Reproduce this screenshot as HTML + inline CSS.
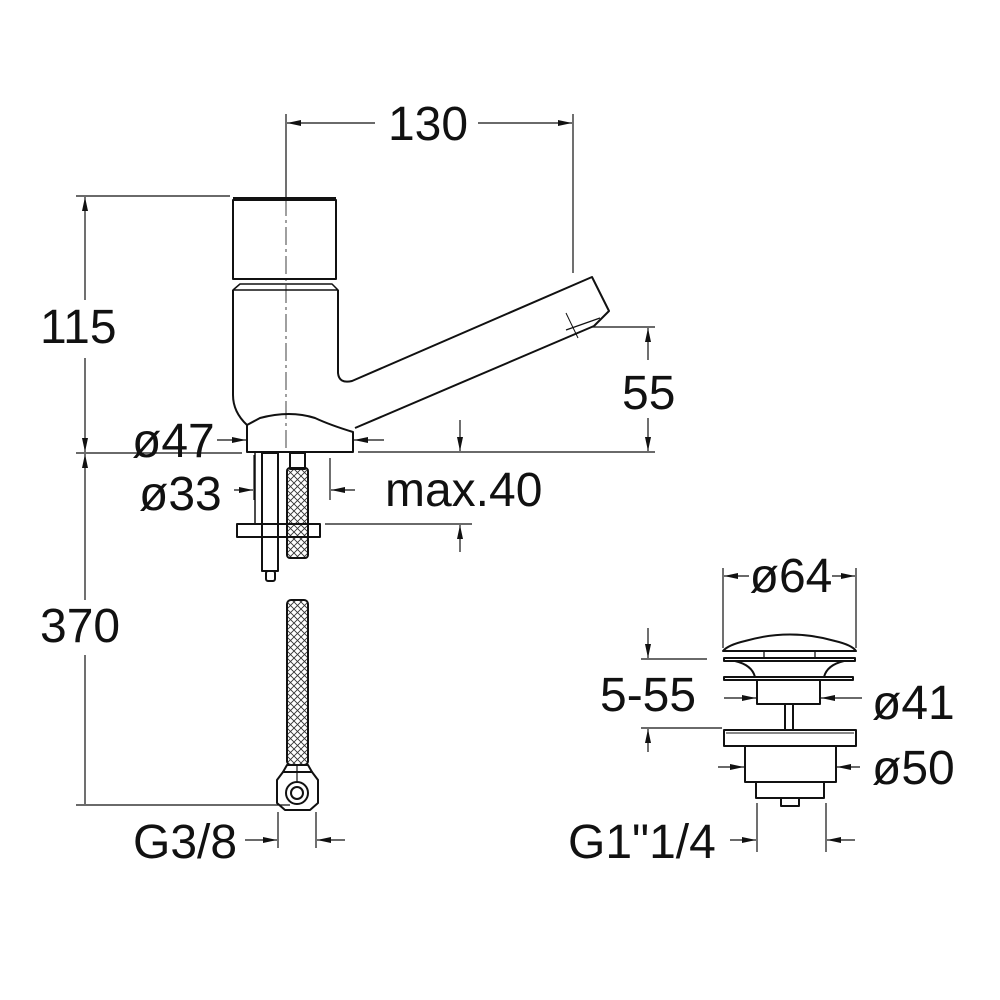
<!DOCTYPE html>
<html><head><meta charset="utf-8"><style>
html,body{margin:0;padding:0;background:#fff;}
svg{display:block;}
text{font-family:"Liberation Sans",sans-serif;font-size:48px;fill:#111;}
</style></head><body>
<svg width="1000" height="1000" viewBox="0 0 1000 1000" xmlns="http://www.w3.org/2000/svg">
<defs>
<marker id="a" viewBox="0 0 14 6" refX="14" refY="3" markerWidth="14" markerHeight="6" markerUnits="userSpaceOnUse" orient="auto"><path d="M0,0 L14,3 L0,6 Z" fill="#111"/></marker>
<pattern id="h" width="7" height="7" patternUnits="userSpaceOnUse"><path d="M0,0 L7,7 M7,0 L0,7" stroke="#333" stroke-width="0.9"/></pattern>
</defs>
<g stroke="#111" stroke-width="1.2" fill="none">
<line x1="286" y1="114" x2="286" y2="198"/>
<line x1="573" y1="114" x2="573" y2="273"/>
<line x1="375" y1="123" x2="287" y2="123" marker-end="url(#a)"/>
<line x1="478" y1="123" x2="572" y2="123" marker-end="url(#a)"/>
<line x1="76" y1="196" x2="230" y2="196"/>
<line x1="76" y1="453" x2="242" y2="453"/>
<line x1="76" y1="805" x2="290" y2="805"/>
<line x1="85" y1="230" x2="85" y2="197" marker-end="url(#a)"/>
<line x1="85" y1="230" x2="85" y2="300"/>
<line x1="85" y1="358" x2="85" y2="420"/>
<line x1="85" y1="420" x2="85" y2="452" marker-end="url(#a)"/>
<line x1="85" y1="485" x2="85" y2="454" marker-end="url(#a)"/>
<line x1="85" y1="485" x2="85" y2="600"/>
<line x1="85" y1="655" x2="85" y2="804"/>
<line x1="286" y1="198" x2="286" y2="452" stroke-dasharray="18,4,3,4" stroke-width="0.8"/>
<line x1="592" y1="327" x2="655" y2="327"/>
<line x1="358" y1="452" x2="655" y2="452"/>
<line x1="648" y1="360" x2="648" y2="328" marker-end="url(#a)"/>
<line x1="648" y1="418" x2="648" y2="451" marker-end="url(#a)"/>
<line x1="217" y1="440" x2="246" y2="440" marker-end="url(#a)"/>
<line x1="384" y1="440" x2="354" y2="440" marker-end="url(#a)"/>
<line x1="254" y1="455" x2="254" y2="500"/>
<line x1="234" y1="490" x2="253" y2="490" marker-end="url(#a)"/>
<line x1="330" y1="458" x2="330" y2="500"/>
<line x1="355" y1="490" x2="331" y2="490" marker-end="url(#a)"/>
<line x1="325" y1="524" x2="472" y2="524"/>
<line x1="460" y1="420" x2="460" y2="451" marker-end="url(#a)"/>
<line x1="460" y1="552" x2="460" y2="525" marker-end="url(#a)"/>
</g>
<g stroke="#111" stroke-width="2" fill="none" stroke-linejoin="round">
<path d="M233,200 L336,200 L336,279 L233,279 Z"/>
<line x1="233" y1="198" x2="336" y2="198"/>
<path d="M240,284 L332,284 L338,290 L233,290 Z" stroke-width="1.5"/>
<path d="M233,290 L233,395 Q233,412 247,425"/>
<path d="M338,290 L338,373 Q339,384 352,381 L592,277 L609,311 L594,326"/>
<path d="M594,326 L355,428"/>
<path d="M247,425 L247,452 L353,452 L353,432 Q330,425 315,418 Q290,410 260,418 L247,425"/>
<line x1="566" y1="313" x2="578" y2="338" stroke-width="1"/>
<line x1="566" y1="330" x2="600" y2="318" stroke-width="1.2"/>
<rect x="262" y="453" width="16" height="118"/>
<line x1="255" y1="453" x2="255" y2="524" stroke-width="1.5"/>
<rect x="266" y="571" width="9" height="10" rx="2"/>
<rect x="287" y="468" width="21" height="90" rx="3" fill="url(#h)"/>
<rect x="290" y="453" width="15" height="16"/>
<rect x="237" y="524" width="83" height="13"/>
<rect x="287" y="600" width="21" height="165" rx="4" fill="url(#h)"/>
<path d="M287,765 L308,765 L312,772 L283,772 Z"/>
<path d="M283,772 L312,772 L318,780 L318,803 L310,810 L285,810 L277,803 L277,780 Z"/>
<circle cx="297" cy="793" r="11"/>
<circle cx="297" cy="793" r="6"/>
<line x1="297" y1="765" x2="297" y2="782" stroke-width="1.2"/>
</g>
<g stroke="#111" stroke-width="1.2" fill="none">
<line x1="278" y1="812" x2="278" y2="848"/>
<line x1="316" y1="812" x2="316" y2="848"/>
<line x1="245" y1="840" x2="277" y2="840" marker-end="url(#a)"/>
<line x1="345" y1="840" x2="317" y2="840" marker-end="url(#a)"/>
<line x1="723" y1="568" x2="723" y2="648"/>
<line x1="856" y1="568" x2="856" y2="648"/>
<line x1="749" y1="576" x2="724" y2="576" marker-end="url(#a)"/>
<line x1="832" y1="576" x2="855" y2="576" marker-end="url(#a)"/>
<line x1="641" y1="659" x2="707" y2="659"/>
<line x1="641" y1="728" x2="722" y2="728"/>
<line x1="648" y1="628" x2="648" y2="658" marker-end="url(#a)"/>
<line x1="648" y1="752" x2="648" y2="729" marker-end="url(#a)"/>
<line x1="724" y1="698" x2="756" y2="698" marker-end="url(#a)"/>
<line x1="862" y1="698" x2="821" y2="698" marker-end="url(#a)"/>
<line x1="718" y1="767" x2="744" y2="767" marker-end="url(#a)"/>
<line x1="860" y1="767" x2="837" y2="767" marker-end="url(#a)"/>
<line x1="757" y1="803" x2="757" y2="852"/>
<line x1="826" y1="803" x2="826" y2="852"/>
<line x1="730" y1="840" x2="756" y2="840" marker-end="url(#a)"/>
<line x1="855" y1="840" x2="827" y2="840" marker-end="url(#a)"/>
</g>
<g stroke="#111" stroke-width="2" fill="none" stroke-linejoin="round">
<path d="M723,651 Q728,645 745,641 Q790,628 835,641 Q852,645 856,651 Z"/>
<line x1="764" y1="651" x2="764" y2="658" stroke-width="1.3"/>
<line x1="815" y1="651" x2="815" y2="658" stroke-width="1.3"/>
<rect x="724" y="658" width="131" height="3"/>
<path d="M735,661 Q752,665 755,677 M844,661 Q827,665 824,677"/>
<rect x="724" y="677" width="129" height="3"/>
<path d="M757,680 L757,704 L820,704 L820,680"/>
<rect x="785" y="704" width="8" height="26"/>
<rect x="724" y="730" width="132" height="16"/>
<line x1="726" y1="733" x2="854" y2="733" stroke-width="1"/>
<rect x="745" y="746" width="91" height="36"/>
<rect x="756" y="782" width="68" height="16"/>
<path d="M781,798 L781,806 L799,806 L799,798"/>
</g>
<text x="428" y="140" text-anchor="middle">130</text>
<text x="40" y="343">115</text>
<text x="40" y="642">370</text>
<text x="622" y="409">55</text>
<text x="132" y="457">ø47</text>
<text x="139" y="510">ø33</text>
<text x="385" y="506">max.40</text>
<text x="133" y="858">G3/8</text>
<text x="791" y="592" text-anchor="middle">ø64</text>
<text x="600" y="711">5-55</text>
<text x="872" y="719">ø41</text>
<text x="872" y="784">ø50</text>
<text x="568" y="858">G1"1/4</text>
</svg>
</body></html>
